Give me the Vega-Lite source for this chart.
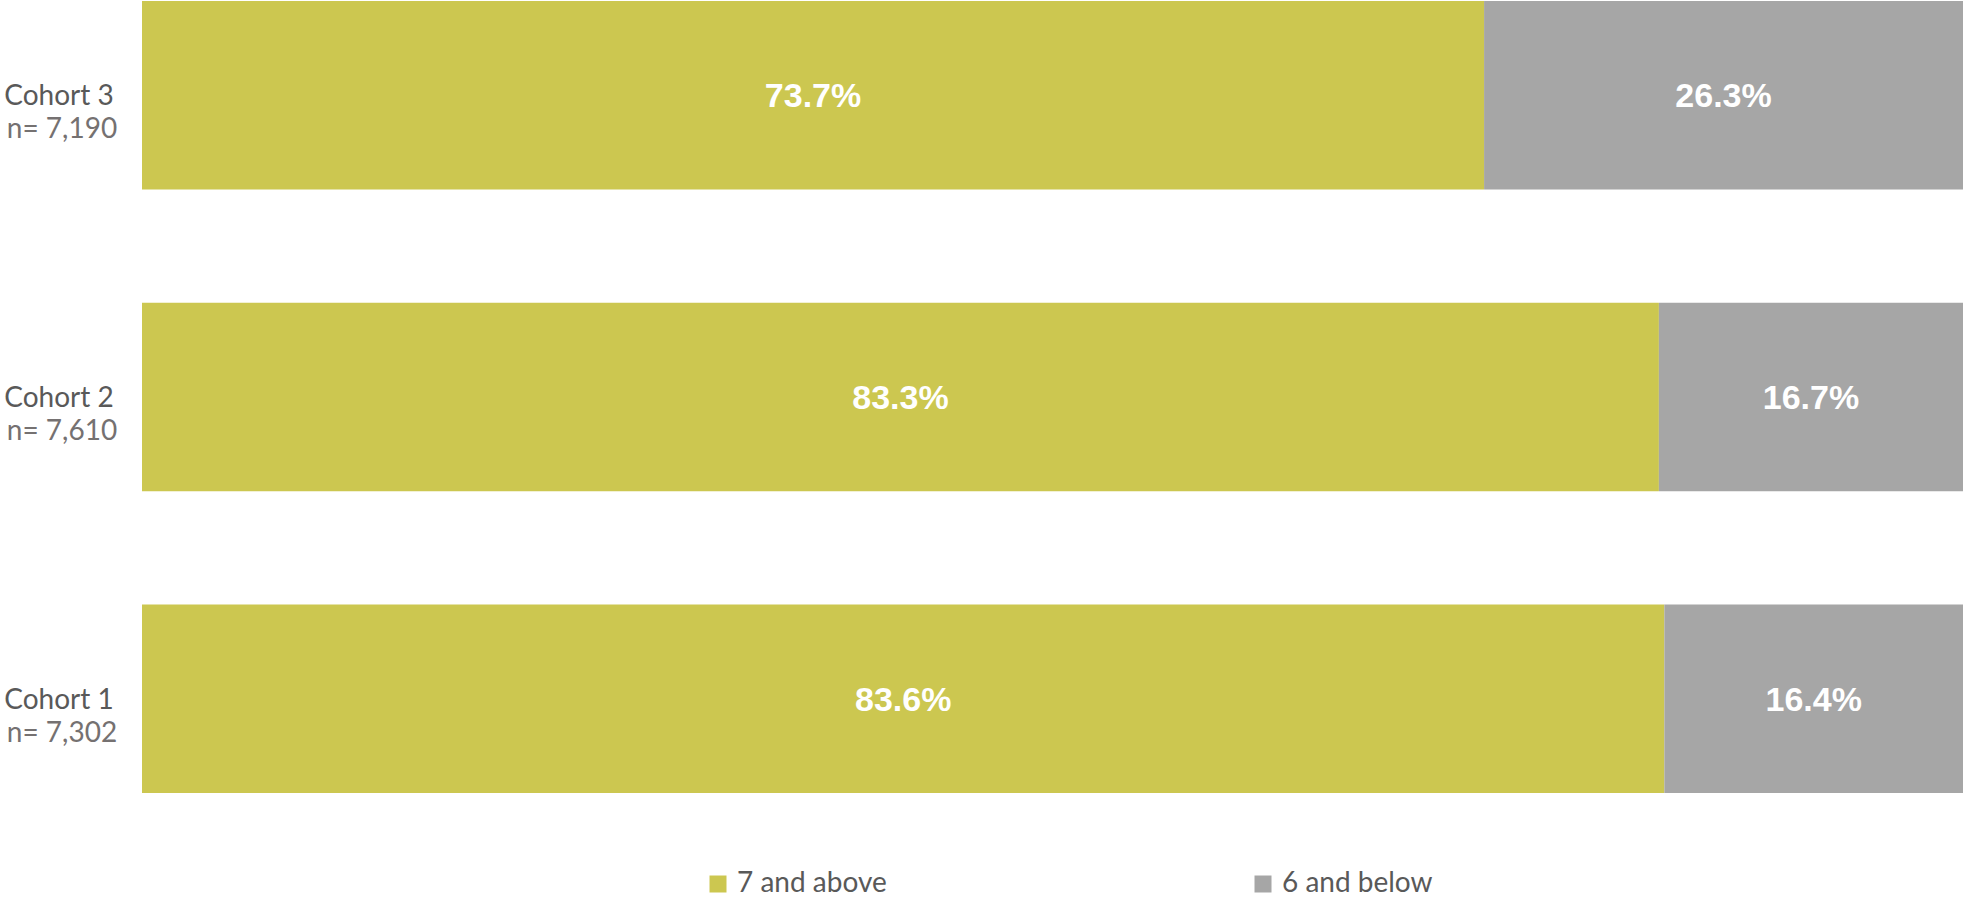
{
  "$schema": "https://vega.github.io/schema/vega-lite/v6.json",
  "width": 1821,
  "height": 792,
  "autosize": {"type": "none"},
  "padding": {"left": 142, "top": 1, "right": 0, "bottom": 104},
  "background": "white",
  "config": {"view": {"stroke": null}},
  "data": {
    "values": [
      {"cohort": "Cohort 3", "n": "n= 7,190", "category": "7 and above", "pct": 0.737, "order": 1},
      {"cohort": "Cohort 3", "n": "n= 7,190", "category": "6 and below", "pct": 0.263, "order": 2},
      {"cohort": "Cohort 2", "n": "n= 7,610", "category": "7 and above", "pct": 0.833, "order": 1},
      {"cohort": "Cohort 2", "n": "n= 7,610", "category": "6 and below", "pct": 0.167, "order": 2},
      {"cohort": "Cohort 1", "n": "n= 7,302", "category": "7 and above", "pct": 0.836, "order": 1},
      {"cohort": "Cohort 1", "n": "n= 7,302", "category": "6 and below", "pct": 0.164, "order": 2}
    ]
  },
  "encoding": {
    "y": {
      "field": "cohort",
      "type": "nominal",
      "sort": ["Cohort 3", "Cohort 2", "Cohort 1"],
      "scale": {"paddingInner": 0.375, "paddingOuter": 0},
      "axis": null
    }
  },
  "layer": [
    {
      "mark": {"type": "bar"},
      "encoding": {
        "x": {"field": "pct", "type": "quantitative", "stack": "zero", "scale": {"domain": [0, 1], "nice": false}, "axis": null},
        "order": {"field": "order"},
        "color": {
          "field": "category",
          "type": "nominal",
          "scale": {"domain": ["7 and above", "6 and below"], "range": ["#CCC750", "#A6A6A6"]},
          "legend": {
            "title": null,
            "orient": "none",
            "legendX": 562,
            "legendY": 869,
            "direction": "horizontal",
            "columns": 2,
            "columnPadding": 362,
            "labelFont": "Lato",
            "labelFontSize": 28,
            "labelColor": "#595959",
            "labelOffset": 5,
            "labelLimit": 400,
            "symbolType": "square",
            "symbolSize": 289,
            "symbolStrokeWidth": 0,
            "symbolOpacity": 1
          }
        }
      }
    },
    {
      "transform": [
        {"stack": "pct", "groupby": ["cohort"], "sort": [{"field": "order"}], "as": ["x0", "x1"]},
        {"fold": ["x0", "x1"], "as": ["edge", "pos"]},
        {"aggregate": [{"op": "mean", "field": "pos", "as": "mid"}], "groupby": ["cohort", "category", "pct"]}
      ],
      "mark": {"type": "text", "font": "Liberation Sans Narrow, Arial Narrow, Liberation Sans", "fontWeight": "bold", "fontSize": 34, "color": "white", "baseline": "middle", "align": "center", "dy": 2},
      "encoding": {
        "x": {"field": "mid", "type": "quantitative"},
        "text": {"field": "pct", "type": "quantitative", "format": ".1%"}
      }
    },
    {
      "transform": [{"filter": "datum.category == '7 and above'"}],
      "mark": {"type": "text", "font": "Lato", "fontSize": 28, "color": "#595959", "baseline": "alphabetic", "align": "center", "dx": -83, "dy": 10},
      "encoding": {
        "x": {"datum": 0, "type": "quantitative"},
        "text": {"field": "cohort"}
      }
    },
    {
      "transform": [{"filter": "datum.category == '7 and above'"}],
      "mark": {"type": "text", "font": "Lato", "fontSize": 28, "color": "#757171", "baseline": "alphabetic", "align": "center", "dx": -80, "dy": 43},
      "encoding": {
        "x": {"datum": 0, "type": "quantitative"},
        "text": {"field": "n"}
      }
    }
  ]
}
